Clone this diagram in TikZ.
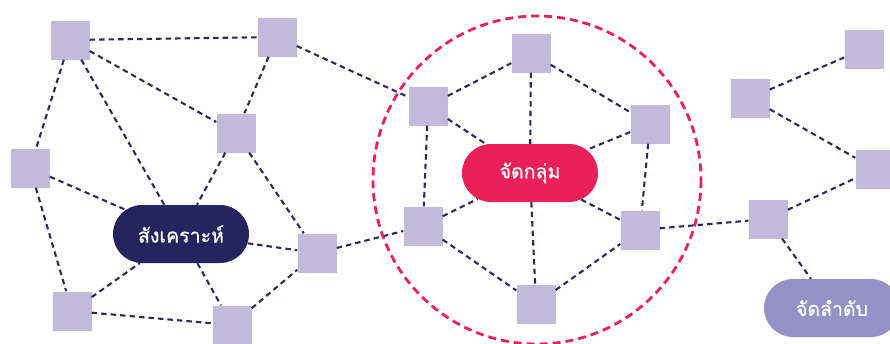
\documentclass[tikz,border=0pt]{standalone}
\usepackage{fontspec}
\newfontfamily\thaifont[Script=Thai,FakeBold=0.8]{Loma}
\usetikzlibrary{shapes.misc}
\definecolor{boxfill}{HTML}{C3B9DA}
\definecolor{navy}{HTML}{25245E}
\definecolor{crimson}{HTML}{EA2159}
\definecolor{lilac}{HTML}{9591C6}
\definecolor{linkcol}{HTML}{2B2A5E}
\begin{document}
\begin{tikzpicture}[x=1pt,y=-1pt,
  sq/.style={rectangle,fill=boxfill,minimum size=39pt,inner sep=0pt},
  pill/.style={rounded rectangle,minimum width=136pt,minimum height=58pt,
    inner sep=0pt,text=white,font=\thaifont\fontsize{19.5}{22}\selectfont},
  link/.style={draw=linkcol,line width=2.1pt,dash pattern=on 5.5pt off 4pt},
  ring/.style={draw=crimson,line width=2.8pt,dash pattern=on 8pt off 5pt}]
\useasboundingbox (0,0) rectangle (890,343);

% left cluster
\node[sq] (A) at (70,40) {};
\node[sq] (B) at (277,37) {};
\node[sq] (C) at (236,133) {};
\node[sq] (D) at (30,168) {};
\node[sq] (E) at (72,311) {};
\node[sq] (F) at (232,325) {};
\node[sq] (G) at (317,253) {};
\node[pill,fill=navy] (syn) at (181,234) {สังเคราะห์};

% middle cluster
\node[sq] (H) at (428,106) {};
\node[sq] (I) at (531,53) {};
\node[sq] (J) at (650,124) {};
\node[sq] (K) at (423,226) {};
\node[sq] (L) at (640,230) {};
\node[sq] (M) at (536,304) {};
\node[pill,fill=crimson] (grp) at (530,173) {จัดกลุ่ม};

% right cluster
\node[sq] (N) at (750,98) {};
\node[sq] (O) at (864,49) {};
\node[sq] (P) at (875,169) {};
\node[sq] (Q) at (768,219) {};
\node[pill,fill=lilac] (ord) at (832,308) {จัดลำดับ};

% links
\foreach \a/\b in {A/B,A/C,A/D,A/syn,B/C,B/H,C/syn,C/G,D/syn,D/E,E/syn,E/F,
  syn/F,syn/G,F/G,G/K,
  H/I,H/grp,H/K,I/grp,I/J,J/grp,J/L,K/grp,K/M,grp/M,grp/L,M/L,L/Q,
  N/O,N/P,Q/P,Q/ord}
  \draw[link] (\a) -- (\b);

% grouping ring
\draw[ring] (537,180) circle[radius=164];
\end{tikzpicture}
\end{document}
